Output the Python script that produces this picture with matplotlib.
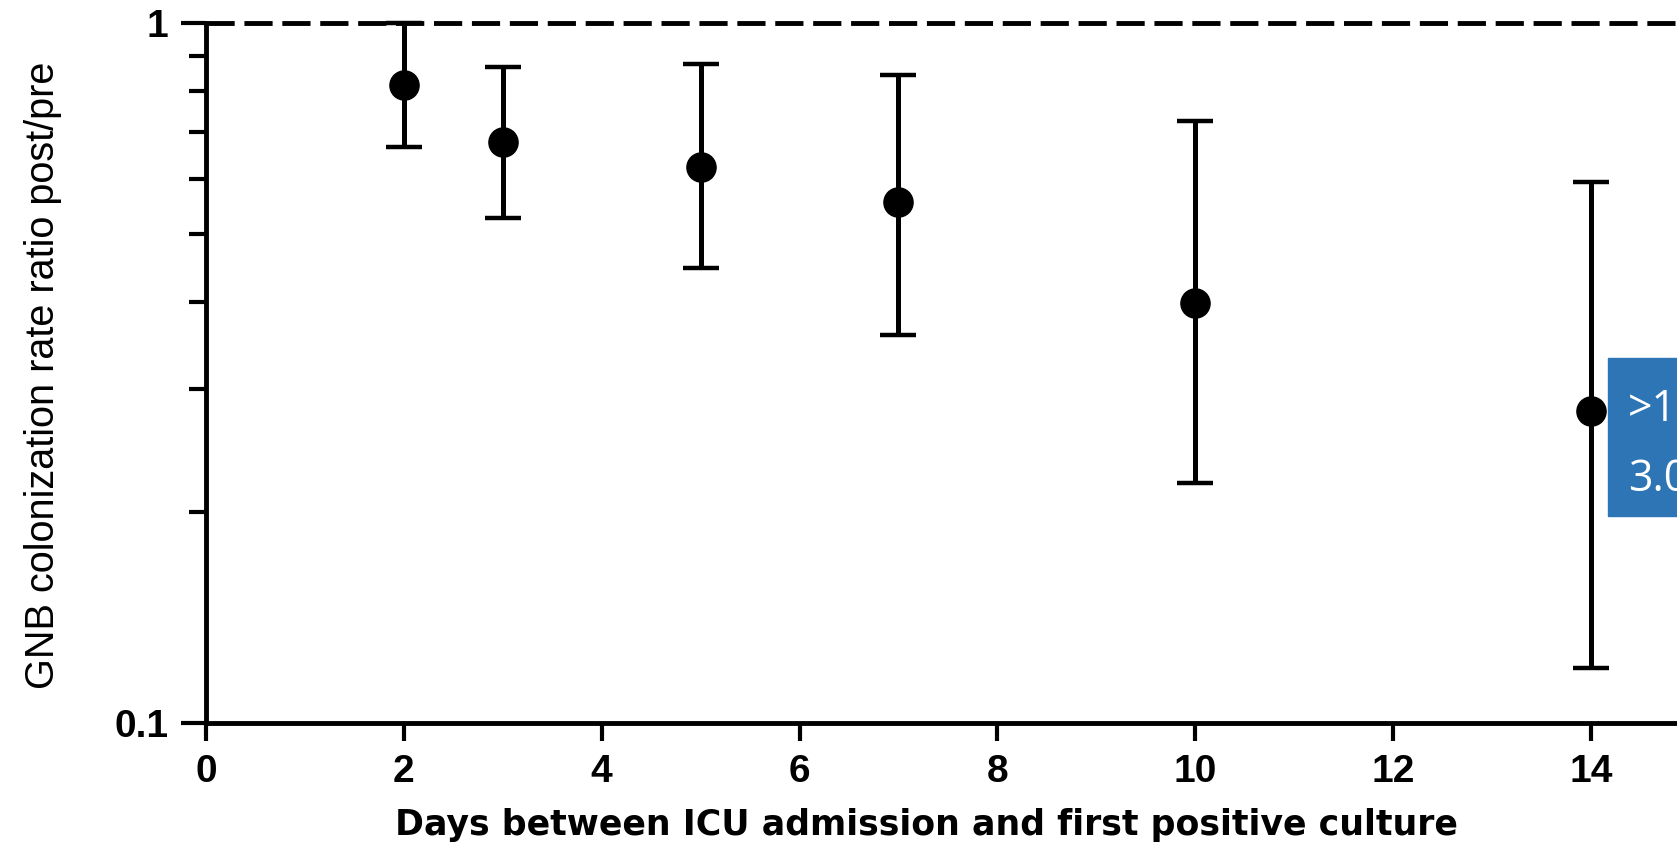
import numpy as np
import matplotlib
matplotlib.use('Agg')
import matplotlib.pyplot as plt
from matplotlib.patches import Rectangle
from matplotlib.ticker import LogLocator, FixedLocator, NullFormatter

# values
days = np.array([2, 3, 5, 7, 10, 14])
ratio = np.array([0.818, 0.677, 0.624, 0.555, 0.398, 0.279])
ci_low = np.array([0.665, 0.527, 0.447, 0.359, 0.220, 0.120])
ci_high = np.array([1.0, 0.866, 0.875, 0.845, 0.726, 0.594])

y_ticks = [0.1, 1]
y_tick_labels = ['0.1', '1']
x_ticks = [0, 2, 4, 6, 8, 10, 12, 14]

W, H = 1677, 842
fig = plt.figure(figsize=(W / 100, H / 100), dpi=100)
ax = fig.add_axes([206 / W, 1 - 723 / H, 1 - 206 / W, (723 - 23.5) / H])

ax.set_yscale('log')
ax.set_ylim(0.1, 1)
ax.set_xlim(0, 14.87)

# reference line at ratio 1
ax.axhline(1, color='black', lw=3.5, ls=(0, (5.8, 2.0)), clip_on=False, zorder=1)

ax.errorbar(days, ratio, yerr=[ratio - ci_low, ci_high - ratio], fmt='o',
            color='black', ms=21, elinewidth=3.6, capsize=13, capthick=3.2,
            clip_on=False, zorder=3)

for s in ['top', 'right']:
    ax.spines[s].set_visible(False)
for s in ['left', 'bottom']:
    ax.spines[s].set_linewidth(3.5)

ax.yaxis.set_major_locator(FixedLocator(y_ticks))
ax.set_yticklabels(y_tick_labels)
ax.yaxis.set_minor_locator(LogLocator(base=10, subs=np.arange(2, 10)))
ax.yaxis.set_minor_formatter(NullFormatter())
ax.set_xticks(x_ticks)

ax.tick_params(axis='y', which='major', length=18, width=3, pad=9, labelsize=28)
ax.tick_params(axis='y', which='minor', length=12, width=3)
ax.tick_params(axis='x', which='major', length=13, width=3, pad=9, labelsize=28)
for lab in ax.get_xticklabels() + ax.get_yticklabels():
    lab.set_fontfamily('Liberation Sans')
    lab.set_fontweight('bold')

fig.text(926 / W, 1 - 825 / H, 'Days between ICU admission and first positive culture',
         ha='center', va='center', fontsize=25, fontweight='bold',
         family='DejaVu Sans')
fig.text(43 / W, 1 - 375 / H, 'GNB colonization rate ratio post/pre',
         ha='center', va='center', rotation=90, fontsize=28.5,
         family='Liberation Sans')

# blue annotation box, cut off at the right edge
fig.patches.append(Rectangle((1608 / W, 1 - 516 / H), 0.2, (516 - 358) / H,
                             transform=fig.transFigure, color='#2E75B6', zorder=5))
fig.text(1628 / W, 1 - 421 / H, '>14', color='white', fontsize=31,
         family='Open Sans', va='baseline', ha='left', zorder=6)
fig.text(1628 / W, 1 - 491 / H, '3.0', color='white', fontsize=31,
         family='Open Sans', va='baseline', ha='left', zorder=6)

fig.savefig('out.png', dpi=100)
